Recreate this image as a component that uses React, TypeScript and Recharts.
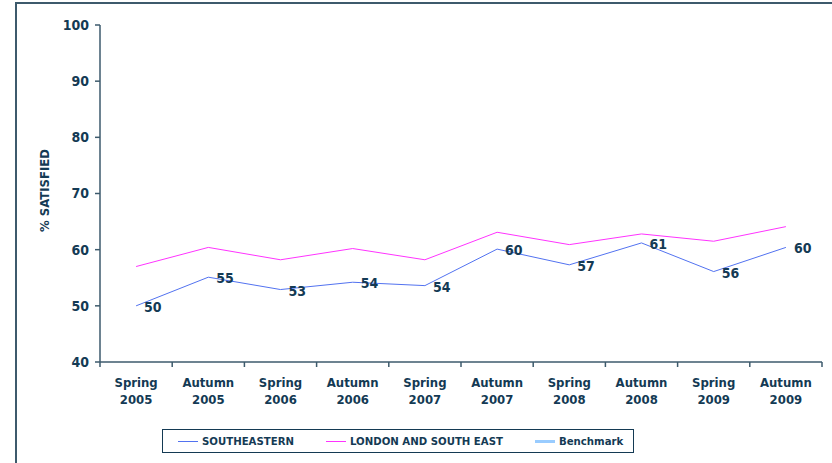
import React from 'react';
import { LineChart, Line, XAxis, YAxis, Legend, LabelList } from 'recharts';

const categories = [
  'Spring 2005', 'Autumn 2005', 'Spring 2006', 'Autumn 2006', 'Spring 2007',
  'Autumn 2007', 'Spring 2008', 'Autumn 2008', 'Spring 2009', 'Autumn 2009',
];
const southeastern = [50.0, 55.1, 52.9, 54.2, 53.6, 60.1, 57.3, 61.2, 56.1, 60.4];
const londonSouthEast = [57.0, 60.4, 58.2, 60.2, 58.2, 63.1, 60.9, 62.8, 61.5, 64.1];
const yTicks = [40, 50, 60, 70, 80, 90, 100];
const legendOrder = ['southeastern', 'lse', 'benchmark'];

const data = categories.map((c, i) => ({
  period: c,
  southeastern: southeastern[i],
  lse: londonSouthEast[i],
  benchmark: null,
}));

const INK = '#143a54';
const AXIS = '#3d5a6c';
const FONT = '"DejaVu Sans Condensed", "DejaVu Sans", sans-serif';
const W = 832;
const H = 463;
const MARGIN = { top: 25, right: 10, bottom: 5, left: 20 };
const PLOT_W = W - MARGIN.left - MARGIN.right - 80;
const BAND = PLOT_W / categories.length;

const PeriodTick = (props: any) => {
  const { x, y, payload, index } = props;
  const [season, year] = String(payload.value).split(' ');
  return (
    <g>
      <line x1={x - BAND / 2} x2={x - BAND / 2} y1={y} y2={y + 5} stroke={AXIS} strokeWidth={1.5} />
      {index === categories.length - 1 && (
        <line x1={x + BAND / 2} x2={x + BAND / 2} y1={y} y2={y + 5} stroke={AXIS} strokeWidth={1.5} />
      )}
      <text x={x} y={y} textAnchor="middle" fill={INK} fontFamily={FONT} fontWeight="bold" fontSize={13}>
        <tspan x={x} dy={25}>{season}</tspan>
        <tspan x={x} dy={17}>{year}</tspan>
      </text>
    </g>
  );
};

const AxisTitle = (props: any) => {
  const { viewBox } = props;
  const cx = viewBox.x + 24;
  const cy = viewBox.y + viewBox.height / 2 - 3;
  return (
    <text
      x={cx}
      y={cy}
      transform={`rotate(-90 ${cx} ${cy})`}
      textAnchor="middle"
      dominantBaseline="central"
      fill={INK}
      fontFamily={FONT}
      fontWeight="bold"
      fontSize={13}
    >
      % SATISFIED
    </text>
  );
};

const PointLabel = (props: any) => {
  const { x, y, value } = props;
  return (
    <text
      x={x + 8}
      y={y + 1}
      dominantBaseline="central"
      fill={INK}
      fontFamily={FONT}
      fontWeight="bold"
      fontSize={14}
    >
      {Math.round(value)}
    </text>
  );
};

const LegendBox = (props: any) => {
  const items = [...(props.payload || [])].sort(
    (a: any, b: any) => legendOrder.indexOf(a.dataKey) - legendOrder.indexOf(b.dataKey),
  );
  return (
    <div style={{ height: 46, position: 'relative' }}>
      <div
        style={{
          position: 'absolute',
          left: 162,
          top: 17,
          width: 472,
          height: 24,
          boxSizing: 'border-box',
          border: `1.5px solid ${INK}`,
          display: 'flex',
          alignItems: 'center',
          paddingLeft: 15,
          fontFamily: FONT,
          fontWeight: 'bold',
          fontSize: 11.3,
          color: INK,
          whiteSpace: 'nowrap',
        }}
      >
        {items.map((entry: any, i: number) => (
          <div key={i} style={{ display: 'flex', alignItems: 'center', marginRight: i < 2 ? 32 : 0 }}>
            <span
              style={{
                display: 'inline-block',
                width: 20,
                height: entry.dataKey === 'benchmark' ? 3 : 1,
                background: entry.color,
                marginRight: 4,
              }}
            />
            <span>{entry.value}</span>
          </div>
        ))}
      </div>
    </div>
  );
};

export default function App() {
  return (
    <div style={{ position: 'absolute', left: 0, top: 0, width: W, height: H, background: '#fff', overflow: 'hidden' }}>
      <div
        style={{
          position: 'absolute',
          left: 15,
          top: 2,
          right: -4,
          bottom: -4,
          borderLeft: `2px solid ${AXIS}`,
          borderTop: `2px solid ${AXIS}`,
        }}
      />
      <LineChart width={W} height={H} data={data} margin={MARGIN}>
        <XAxis
          dataKey="period"
          interval={0}
          height={50}
          padding={{ left: BAND / 2, right: BAND / 2 }}
          tickSize={0}
          tickMargin={0}
          tick={<PeriodTick />}
          axisLine={{ stroke: AXIS, strokeWidth: 1.5 }}
        />
        <YAxis
          domain={[40, 100]}
          ticks={yTicks}
          width={80}
          tickSize={5}
          tickMargin={6}
          tickLine={{ stroke: AXIS, strokeWidth: 1.5 }}
          axisLine={{ stroke: AXIS, strokeWidth: 1.5 }}
          tick={{ fill: INK, fontFamily: FONT, fontWeight: 'bold', fontSize: 14 }}
          label={<AxisTitle />}
        />
        <Legend
          verticalAlign="bottom"
          content={<LegendBox />}
          wrapperStyle={{ left: 0, width: W }}
        />
        <Line
          dataKey="southeastern"
          name="SOUTHEASTERN"
          stroke="#5272f0"
          strokeWidth={1}
          dot={false}
          isAnimationActive={false}
        >
          <LabelList dataKey="southeastern" content={<PointLabel />} />
        </Line>
        <Line
          dataKey="lse"
          name="LONDON AND SOUTH EAST"
          stroke="#ff33ff"
          strokeWidth={1}
          dot={false}
          isAnimationActive={false}
        />
        <Line
          dataKey="benchmark"
          name="Benchmark"
          stroke="#99ccff"
          strokeWidth={3}
          dot={false}
          isAnimationActive={false}
        />
      </LineChart>
    </div>
  );
}
